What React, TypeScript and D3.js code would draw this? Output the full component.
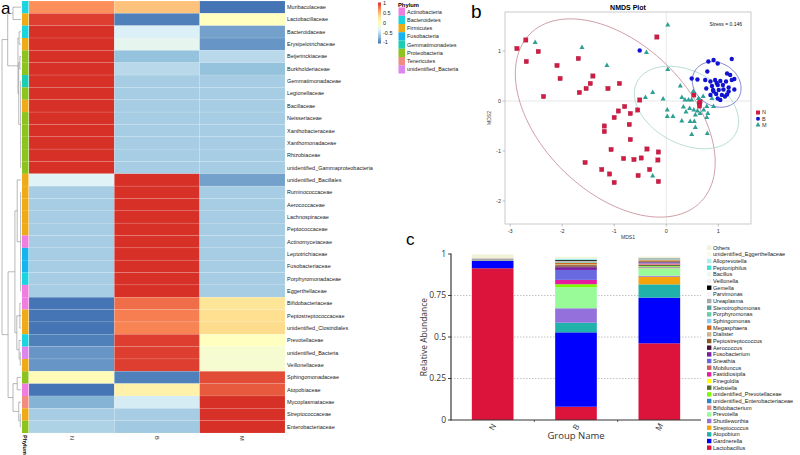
import React from "react";
import * as d3 from "d3";

// ---------- panel a : heatmap ----------
const families = [
  "Muribaculaceae", "Lactobacillaceae", "Bacteroidaceae", "Erysipelotrichaceae", "Beijerinckiaceae",
  "Burkholderiaceae", "Gemmatimonadaceae", "Legionellaceae", "Bacillaceae", "Neisseriaceae",
  "Xanthobacteraceae", "Xanthomonadaceae", "Rhizobiaceae", "unidentified_Gammaproteobacteria",
  "unidentified_Bacillales", "Ruminococcaceae", "Aerococcaceae", "Lachnospiraceae", "Peptococcaceae",
  "Actinomycetaceae", "Leptotrichiaceae", "Fusobacteriaceae", "Porphyromonadaceae", "Eggerthellaceae",
  "Bifidobacteriaceae", "Peptostreptococcaceae", "unidentified_Clostridiales", "Prevotellaceae",
  "unidentified_Bacteria", "Veillonellaceae", "Sphingomonadaceae", "Atopobiaceae", "Mycoplasmataceae",
  "Streptococcaceae", "Enterobacteriaceae",
];
const familyPhylum = [
  "Bacteroidetes", "Firmicutes", "Bacteroidetes", "Firmicutes", "Proteobacteria",
  "Proteobacteria", "Gemmatimonadetes", "Proteobacteria", "Firmicutes", "Proteobacteria",
  "Proteobacteria", "Proteobacteria", "Proteobacteria", "Proteobacteria",
  "Firmicutes", "Firmicutes", "Firmicutes", "Firmicutes", "Firmicutes",
  "Actinobacteria", "Fusobacteria", "Fusobacteria", "Bacteroidetes", "Actinobacteria",
  "Actinobacteria", "Firmicutes", "Firmicutes", "Bacteroidetes",
  "unidentified_Bacteria", "Firmicutes", "Proteobacteria", "Actinobacteria", "Tenericutes",
  "Firmicutes", "Proteobacteria",
];
const heatGroups = ["N", "B", "M"];
const heatN = [0.66, 0.95, 1.15, 1.12, 1.15, 1.15, 1.155, 1.155, 1.155, 1.155, 1.155, 1.155, 1.155, 1.155,
  -0.33, -0.577, -0.577, -0.577, -0.577, -0.577, -0.577, -0.577, -0.577, -0.577,
  -1.05, -1.05, -1.05, -0.95, -0.85, -0.85, 0.05, -1.0, -0.72, -0.577, -0.55];
const heatB = [0.45, -0.95, -0.35, -0.27, -0.65, -0.5, -0.577, -0.577, -0.577, -0.577, -0.577, -0.577, -0.577, -0.577,
  1.13, 1.155, 1.155, 1.155, 1.155, 1.155, 1.155, 1.155, 1.155, 1.155,
  0.78, 0.72, 0.7, 0.95, 0.95, 0.95, -0.95, 0.15, -0.38, -0.577, -0.6];
const heatM = [-1.11, 0.0, -0.8, -0.85, -0.5, -0.65, -0.577, -0.577, -0.577, -0.577, -0.577, -0.577, -0.577, -0.577,
  -0.8, -0.577, -0.577, -0.577, -0.577, -0.577, -0.577, -0.577, -0.577, -0.577,
  0.27, 0.33, 0.35, 0.0, -0.1, -0.1, 0.9, 0.85, 1.1, 1.155, 1.15];
const phyla = ["Actinobacteria", "Bacteroidetes", "Firmicutes", "Fusobacteria", "Gemmatimonadetes",
  "Proteobacteria", "Tenericutes", "unidentified_Bacteria"];
const phylumColors = ["#f07ee0", "#1cd3e0", "#eeaa18", "#18b4f0", "#1ccdb4", "#8cc31e", "#f08c80", "#dc86f0"];
const scaleTicks = [1, 0.5, 0, -0.5, -1];
const heatPalette = ["#4575B4", "#91BFDB", "#E0F3F8", "#FFFFBF", "#FEE090", "#FC8D59", "#D73027"];
// [height, ...children], leaves are row indices
const rowTree = [1,
  [0.7, [0.42, 0, 1], [0.16, [0.1, 2, 3], [0.12, [0.06, 4, 5], [0.02, 6, 7, 8, 9, 10, 11, 12, 13]]]],
  [0.68,
    [0.32, [0.2, 14, [0.02, 15, 16, 17, 18, 19, 20, 21, 22, 23]], [0.22, [0.06, 24, 25, 26], [0.1, 27, [0.04, 28, 29]]]],
    [0.42, [0.2, 30, 31], [0.12, 32, [0.04, 33, 34]]]],
];

// ---------- panel b : NMDS ----------
const nmdsN = [
  [-2.87, 1.05], [-2.7, 1.22], [-2.69, 0.79], [-2.46, 0.99], [-2.36, 0.09], [-2.1, 0.71], [-2.04, 0.45],
  [-1.69, 0.85], [-1.67, 0.17], [-1.54, 0.25], [-1.46, 0.35], [-1.41, 0.5], [-1.12, 0.25], [-0.9, 0.35],
  [-0.51, 0.02], [-0.18, 1.28], [-0.8, -0.11], [-0.92, -0.2], [-0.69, -0.25], [-0.55, -0.18], [-1.0, -0.33],
  [-1.19, -0.5], [-1.19, -0.61], [-0.71, -0.47], [-0.69, -0.77], [-1.06, -0.97], [-0.82, -1.15],
  [-0.62, -1.17], [-0.48, -1.14], [-0.37, -0.96], [-0.15, -1.02], [-0.16, -1.18], [-1.56, -1.23],
  [-1.24, -1.37], [-1.09, -1.46], [-1.0, -1.63], [-0.54, -1.49], [-0.32, -1.37], [-0.15, -1.61],
  [0.64, -0.05], [0.64, -0.1], [0.65, -0.01], [0.53, 0.12],
];
const nmdsB = [
  [-0.51, 1.01], [0.81, 0.79], [0.91, 0.82], [0.99, 0.75], [1.26, 0.84], [0.79, 0.59], [0.49, 0.45],
  [0.6, 0.43], [0.75, 0.42], [0.85, 0.39], [0.94, 0.42], [1.04, 0.4], [1.15, 0.39], [1.26, 0.42],
  [1.31, 0.44], [0.77, 0.25], [0.88, 0.3], [0.99, 0.32], [1.09, 0.32], [1.2, 0.27], [1.31, 0.23],
  [0.91, 0.19], [1.01, 0.22], [1.1, 0.23], [1.2, 0.19], [0.85, 0.12], [0.96, 0.14], [1.07, 0.12],
  [1.17, 0.13], [0.99, 0.05], [1.13, 0.09], [1.04, 0.02], [0.9, 0.22], [1.23, 0.52], [1.17, 0.55], [0.97, 0.36],
];
const nmdsM = [
  [-2.52, 1.17], [-1.62, 1.07], [-1.14, 0.71], [0.03, 1.52], [-0.38, 0.97], [0.03, 0.63], [-0.26, 0.17],
  [-0.4, 0.07], [-0.06, 0.04], [0.27, 0.3], [0.52, 0.19], [0.3, 0.07], [0.36, 0.02], [0.43, 0.02],
  [0.49, 0.02], [0.71, 0.09], [0.88, 0.05], [0.91, -0.11], [0.78, -0.11], [0.33, -0.12], [0.45, -0.15],
  [0.02, -0.18], [0.02, -0.31], [0.13, -0.31], [0.3, -0.4], [0.46, -0.41], [0.54, -0.41], [0.56, -0.53],
  [0.49, -0.67], [0.79, -0.65], [0.72, -0.18], [0.8, -0.25], [0.78, -0.33], [0.65, -0.25], [0.56, -0.28],
  [0.53, -0.18], [0.62, 0.05], [-0.26, -1.5], [0.38, -0.22], [0.6, -0.2],
];
// [cx, cy, semi-major, semi-minor, angle deg]
const ellipseN = [-0.98, -0.34, 2.35, 1.45, -47];
const ellipseB = [0.97, 0.33, 0.5, 0.42, -40];
const ellipseM = [0.39, -0.13, 1.08, 0.72, -30];
const nmdsXTicks = [-3, -2, -1, 0, 1];
const nmdsYTicks = [-2, -1, 0, 1];

// ---------- panel c : stacked bars ----------
const barGroups = ["N", "B", "M"];
// bottom -> top
const genera = [
  "Lactobacillus", "Gardnerella", "Atopobium", "Streptococcus", "Shuttleworthia", "Prevotella",
  "Bifidobacterium", "unidentified_Enterobacteriaceae", "unidentified_Prevotellaceae", "Klebsiella",
  "Finegoldia", "Fastidiosipila", "Mobiluncus", "Sneathia", "Fusobacterium", "Aerococcus",
  "Peptostreptococcus", "Dialister", "Megasphaera", "Sphingomonas", "Porphyromonas", "Stenotrophomonas",
  "Ureaplasma", "Parvimonas", "Gemella", "Veillonella", "Bacillus", "Peptoniphilus", "Alloprevotella",
  "unidentified_Eggerthellaceae", "Others",
];
const genusColors = [
  "#dc143c", "#0000ff", "#20b2aa", "#f5a30a", "#9370db", "#98fb98",
  "#e08a8a", "#2a86c8", "#7cfc00", "#556b2f",
  "#ffff00", "#e81ca0", "#cd5c5c", "#6a6ae0", "#7b1fa2", "#4a1040",
  "#8b5a2b", "#d2b48c", "#d2691e", "#87cefa", "#66cdaa", "#5f9ea0",
  "#a9a9a9", "#f4f4fa", "#000000", "#f2f2f2", "#eef8ee", "#40e0d0", "#afeeee",
  "#fafae6", "#f2f2d8",
];
const abundN = [0.914, 0.044, 0, 0, 0, 0, 0, 0, 0, 0, 0, 0, 0, 0, 0, 0, 0, 0, 0, 0, 0, 0,
  0.016, 0, 0, 0, 0, 0, 0, 0, 0.024];
const abundB = [0.08, 0.448, 0.058, 0, 0.087, 0.127, 0, 0, 0.018, 0, 0, 0.026, 0, 0.06, 0.016, 0.005,
  0.008, 0.006, 0.008, 0, 0.004, 0, 0.006, 0.002, 0.005, 0.002, 0, 0.003, 0.004, 0.002, 0.008];
const abundM = [0.462, 0.275, 0.08, 0.046, 0.006, 0.045, 0.006, 0.004, 0.004, 0.006, 0.002, 0.003, 0.004,
  0.005, 0.002, 0.002, 0.005, 0.004, 0.005, 0.002, 0.002, 0.003, 0.004, 0, 0, 0, 0, 0, 0, 0, 0.008];
const abundTicks = [0, 0.25, 0.5, 0.75, 1];

const sans = "Liberation Sans, Arial, sans-serif";

function layoutTree(node: any, yOf: (i: number) => number, xOf: (h: number) => number, segs: number[][]) {
  if (typeof node === "number") return { x: xOf(0), y: yOf(node) };
  const [h, ...kids] = node;
  const pts = kids.map((k: any) => layoutTree(k, yOf, xOf, segs));
  const x = xOf(h);
  const y0 = pts[0].y;
  const y1 = pts[pts.length - 1].y;
  segs.push([x, y0, x, y1]);
  pts.forEach((p: any) => segs.push([x, p.y, p.x, p.y]));
  return { x, y: (y0 + y1) / 2 };
}

const HeatmapPanel = () => {
  const hx = d3.scaleBand().domain(heatGroups).range([29, 285]);
  const hy = d3.scaleBand().domain(families).range([1, 433]);
  const color = d3.scaleLinear<string>().domain([-1, -2 / 3, -1 / 3, 0, 1 / 3, 2 / 3, 1]).range(heatPalette).clamp(true);
  const values = [heatN, heatB, heatM];
  const dx = d3.scaleLinear().domain([0, 1]).range([21, 2]);
  const segs: number[][] = [];
  layoutTree(rowTree, (i) => (hy(families[i]) as number) + hy.bandwidth() / 2, dx, segs);
  const legY = d3.scaleLinear().domain([1, -1]).range([3.5, 42.5]);
  const phylumY = d3.scaleBand().domain(phyla).range([7.5, 73.5]);
  return (
    <g>
      <text x={1} y={14} fontSize={17} fontFamily={sans}>a</text>
      {segs.map((s, i) => (
        <line key={i} x1={s[0]} y1={s[1]} x2={s[2]} y2={s[3]} stroke="#8a8a8a" strokeWidth={0.6} />
      ))}
      {families.map((f, i) => (
        <rect key={"p" + f} x={22} y={hy(f)} width={6.5} height={hy.bandwidth()}
          fill={phylumColors[phyla.indexOf(familyPhylum[i])]} />
      ))}
      {families.map((f, i) =>
        heatGroups.map((g, j) => (
          <rect key={f + g} x={hx(g)} y={hy(f)} width={hx.bandwidth()} height={hy.bandwidth()}
            fill={color(values[j][i])} stroke="rgba(255,255,255,0.22)" strokeWidth={0.5} />
        ))
      )}
      {families.map((f) => (
        <text key={"l" + f} x={287} y={(hy(f) as number) + hy.bandwidth() / 2} dy="0.35em"
          fontSize={5.5} fontFamily={sans} fill="#222">{f}</text>
      ))}
      {heatGroups.map((g) => (
        <text key={"c" + g} transform={`translate(${(hx(g) as number) + hx.bandwidth() / 2 - 2},436) rotate(90)`}
          fontSize={5.5} fontFamily={sans} fill="#222">{g}</text>
      ))}
      <text transform="translate(23,435) rotate(90)" fontSize={5.5} fontWeight="bold" fontFamily={sans}>Phylum</text>
      <defs>
        <linearGradient id="heatGrad" x1="0" y1="0" x2="0" y2="1">
          {heatPalette.slice().reverse().map((c, i) => (
            <stop key={c} offset={`${(i / (heatPalette.length - 1)) * 100}%`} stopColor={c} />
          ))}
        </linearGradient>
      </defs>
      <rect x={378} y={legY(1.05)} width={3} height={legY(-1.05) - legY(1.05)} fill="url(#heatGrad)" />
      {scaleTicks.map((t) => (
        <text key={t} x={383} y={legY(t)} dy="0.35em" fontSize={5.5} fontFamily={sans} fill="#222">{t}</text>
      ))}
      <text x={398} y={6.5} fontSize={5.8} fontWeight="bold" fontFamily={sans}>Phylum</text>
      {phyla.map((p, i) => (
        <g key={p}>
          <rect x={398.5} y={phylumY(p)} width={6.5} height={phylumY.bandwidth()} fill={phylumColors[i]} />
          <text x={407} y={(phylumY(p) as number) + phylumY.bandwidth() / 2} dy="0.35em" fontSize={5.5}
            fontFamily={sans} fill="#222">{p}</text>
        </g>
      ))}
    </g>
  );
};

const NmdsPanel = () => {
  const sx = d3.scaleLinear().domain([-3.1, 1.63]).range([505, 751]);
  const sy = d3.scaleLinear().domain([-2.46, 1.78]).range([224, 12]);
  const ellipse = (e: number[]) => {
    const [cx, cy, a, b, ang] = e;
    const r = (ang * Math.PI) / 180;
    const ts = d3.range(0, 361, 3).map((d) => (d * Math.PI) / 180);
    return d3.line<number>()
      .x((t) => sx(cx + a * Math.cos(t) * Math.cos(r) - b * Math.sin(t) * Math.sin(r)))
      .y((t) => sy(cy + a * Math.cos(t) * Math.sin(r) + b * Math.sin(t) * Math.cos(r)))(ts) as string;
  };
  const tri = d3.symbol(d3.symbolTriangle, 11)() as string;
  const sq = 4.3;
  return (
    <g fontFamily={sans}>
      <text x={471} y={18} fontSize={19} fontFamily={sans}>b</text>
      <text x={628} y={10} fontSize={7} fontWeight="bold" textAnchor="middle">NMDS Plot</text>
      <line x1={sx(0)} x2={sx(0)} y1={12} y2={224} stroke="#d6d6d6" strokeWidth={0.6} />
      <line x1={505} x2={751} y1={sy(0)} y2={sy(0)} stroke="#d6d6d6" strokeWidth={0.6} />
      <path d={ellipse(ellipseN)} fill="none" stroke="#c48690" strokeWidth={0.8} />
      <path d={ellipse(ellipseM)} fill="none" stroke="#a6d4ca" strokeWidth={0.8} />
      <path d={ellipse(ellipseB)} fill="none" stroke="#6262c8" strokeWidth={0.8} />
      {nmdsN.map((p, i) => (
        <rect key={"n" + i} x={sx(p[0]) - sq / 2} y={sy(p[1]) - sq / 2} width={sq} height={sq}
          fill="#d01c44" stroke="#9c1030" strokeWidth={0.3} />
      ))}
      {nmdsM.map((p, i) => (
        <path key={"m" + i} d={tri} transform={`translate(${sx(p[0])},${sy(p[1])})`} fill="#2f9f95" />
      ))}
      {nmdsB.map((p, i) => (
        <circle key={"b" + i} cx={sx(p[0])} cy={sy(p[1])} r={2.2} fill="#1212d2" />
      ))}
      <rect x={505} y={12} width={246} height={212} fill="none" stroke="#b4b4b4" strokeWidth={0.7} />
      {nmdsXTicks.map((t) => (
        <g key={"x" + t}>
          <line x1={sx(t)} x2={sx(t)} y1={224} y2={226.5} stroke="#999" strokeWidth={0.6} />
          <text x={sx(t)} y={233} fontSize={5.5} textAnchor="middle" fill="#333">{t}</text>
        </g>
      ))}
      {nmdsYTicks.map((t) => (
        <g key={"y" + t}>
          <line x1={502.5} x2={505} y1={sy(t)} y2={sy(t)} stroke="#999" strokeWidth={0.6} />
          <text x={501} y={sy(t)} dy="0.35em" fontSize={5.5} textAnchor="end" fill="#333">{t}</text>
        </g>
      ))}
      <text x={628} y={239} fontSize={5} textAnchor="middle" fill="#333">MDS1</text>
      <text transform="translate(491,118) rotate(-90)" fontSize={5} textAnchor="middle" fill="#333">MDS2</text>
      <text x={742} y={26} fontSize={5} textAnchor="end" fill="#111">Stress = 0.146</text>
      <rect x={756} y={110.5} width={4} height={4} fill="#d01c44" />
      <circle cx={758} cy={118.7} r={2} fill="#1212d2" />
      <path d={tri} transform="translate(758,125)" fill="#2f9f95" />
      <text x={762} y={112.5} dy="0.35em" fontSize={5.5} fill="#333">N</text>
      <text x={762} y={118.7} dy="0.35em" fontSize={5.5} fill="#333">B</text>
      <text x={762} y={125} dy="0.35em" fontSize={5.5} fill="#333">M</text>
    </g>
  );
};

const BarPanel = () => {
  const bx = d3.scaleBand().domain(barGroups).range([451, 701]).paddingInner(0.5).paddingOuter(0.25);
  const by = d3.scaleLinear().domain([0, 1]).range([420, 254]);
  const cols = [abundN, abundB, abundM];
  const rows = barGroups.map((g, j) => {
    const r: any = { group: g };
    genera.forEach((k, i) => (r[k] = cols[j][i]));
    return r;
  });
  const series = d3.stack().keys(genera)(rows);
  const legendOrder = genera.slice().reverse();
  const ly = d3.scalePoint().domain(legendOrder).range([247.7, 447.7]);
  const font = "Open Sans, DejaVu Sans, sans-serif";
  const between = barGroups.slice(1).map((g) => (bx(g) as number) - (bx.step() * bx.paddingInner()) / 2);
  return (
    <g fontFamily={font}>
      <text x={406} y={245} fontSize={17} fontFamily={sans}>c</text>
      {abundTicks.filter((t) => t > 0 && t < 1).map((t) => (
        <line key={"g" + t} x1={451} x2={701} y1={by(t)} y2={by(t)} stroke="#9a9a9a" strokeWidth={0.6}
          strokeDasharray="1.5,1.5" />
      ))}
      {series.map((s, i) => (
        <g key={s.key} fill={genusColors[i]}>
          {s.map((d: any) => (
            <rect key={d.data.group} x={bx(d.data.group)} width={bx.bandwidth()} y={by(d[1])}
              height={Math.max(0, by(d[0]) - by(d[1]))} />
          ))}
        </g>
      ))}
      <line x1={451} x2={451} y1={253.5} y2={420.5} stroke="#111" strokeWidth={1} />
      <line x1={451} x2={701} y1={420} y2={420} stroke="#333" strokeWidth={1} />
      {abundTicks.map((t) => (
        <g key={"t" + t}>
          <line x1={448} x2={451} y1={by(t)} y2={by(t)} stroke="#111" strokeWidth={0.8} />
          <text x={446} y={by(t)} dy="0.35em" fontSize={8.5} textAnchor="end" fill="#333">{t}</text>
        </g>
      ))}
      {between.map((x, i) => (
        <line key={"b" + i} x1={x} x2={x} y1={420} y2={422} stroke="#333" strokeWidth={0.8} />
      ))}
      {barGroups.map((g) => (
        <text key={"x" + g} transform={`translate(${(bx(g) as number) + bx.bandwidth() / 2},427) rotate(-60)`}
          dy="0.35em" fontSize={8} textAnchor="middle" fill="#333">{g}</text>
      ))}
      <text x={576} y={439} fontSize={9.5} textAnchor="middle" fill="#333">Group Name</text>
      <text transform="translate(427,337) rotate(-90)" fontSize={8.5} textAnchor="middle" fill="#333">Relative Abundance</text>
      {legendOrder.map((k) => (
        <g key={"lg" + k}>
          <rect x={707} y={(ly(k) as number) - 2.2} width={4.4} height={4.4} fill={genusColors[genera.indexOf(k)]} />
          <text x={713} y={ly(k)} dy="0.35em" fontSize={5.6} fontFamily={sans} fill="#222">{k}</text>
        </g>
      ))}
    </g>
  );
};

export default function App() {
  return (
    <svg width={800} height={455} style={{ position: "absolute", left: 0, top: 0, background: "#fff" }}>
      <rect width={800} height={455} fill="#fff" />
      <HeatmapPanel />
      <NmdsPanel />
      <BarPanel />
    </svg>
  );
}
